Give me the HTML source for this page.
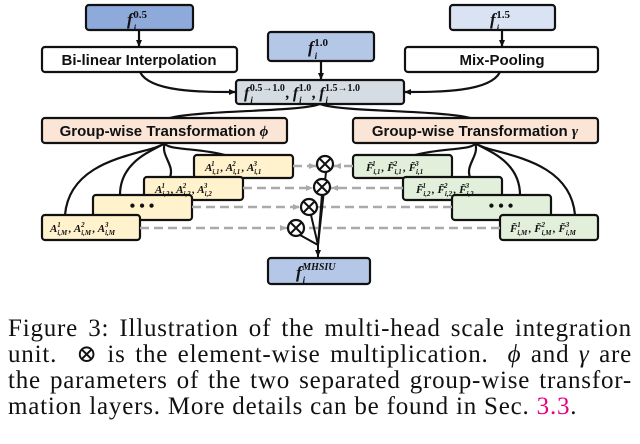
<!DOCTYPE html>
<html><head><meta charset="utf-8"><style>
body{margin:0;background:#fff;width:640px;height:444px;overflow:hidden;position:relative}
svg{position:absolute;left:0;top:0}
.cap{position:absolute;left:8px;width:624px;font-family:"Liberation Serif","DejaVu Serif",serif;font-size:25px;letter-spacing:0.8px;line-height:26px;top:316px;color:#111}
.cap div{text-align:justify;text-align-last:justify;white-space:nowrap}
.cap div.l{text-align-last:left}
</style></head><body>
<svg width="640" height="300" viewBox="0 0 640 300" font-family="Liberation Sans, DejaVu Sans, sans-serif">
<defs>
<marker id="a" markerWidth="8" markerHeight="8" refX="7" refY="4" orient="auto" markerUnits="userSpaceOnUse"><path d="M0,1 L7,4 L0,7z" fill="#111"/></marker>
<marker id="g" markerWidth="8" markerHeight="8" refX="7" refY="4" orient="auto" markerUnits="userSpaceOnUse"><path d="M0,1 L7,4 L0,7z" fill="#aaa"/></marker>
</defs>
<g stroke="#111" stroke-width="2.2" fill="none">
<line x1="139" y1="30" x2="139" y2="47" marker-end="url(#a)"/>
<line x1="502" y1="30" x2="502" y2="47" marker-end="url(#a)"/>
<line x1="321" y1="61" x2="321" y2="80" marker-end="url(#a)"/>
<path d="M140,72 C150,92 200,92 236,92" marker-end="url(#a)"/>
<path d="M500,72 C490,92 440,92 404,92" marker-end="url(#a)"/>
<path d="M320,104 C300,112 200,110 170,118"/>
<path d="M320,104 C340,112 440,110 470,118"/>
<path d="M165,143 C165,150 200,148 225,155"/>
<path d="M165,143 C160,155 175,165 170,177"/>
<path d="M165,143 C155,150 120,160 120,195"/>
<path d="M165,143 C150,155 70,155 65,215"/>
<path d="M475,143 C475,150 440,148 415,155"/>
<path d="M475,143 C480,155 465,165 470,177"/>
<path d="M475,143 C485,150 520,160 520,195"/>
<path d="M475,143 C490,155 570,155 575,215"/>
</g>
<g stroke="#111" stroke-width="2.2">
<rect x="86" y="5" width="107" height="25" rx="3" fill="#8eaadb"/>
<rect x="450" y="5" width="105" height="25" rx="3" fill="#dae3f3"/>
<rect x="268" y="32" width="106" height="29" rx="3" fill="#b4c7e7"/>
<rect x="42" y="47" width="195" height="25" rx="3" fill="#fff"/>
<rect x="405" y="47" width="193" height="25" rx="3" fill="#fff"/>
<rect x="236" y="80" width="168" height="24" rx="3" fill="#d6dce4"/>
<rect x="42" y="118" width="245" height="25" rx="3" fill="#fbe5d6"/>
<rect x="353" y="118" width="245" height="25" rx="3" fill="#fbe5d6"/>
<rect x="194" y="155" width="99" height="23" rx="3" fill="#fff2cc"/>
<rect x="144" y="177" width="99" height="23" rx="3" fill="#fff2cc"/>
<rect x="93" y="195" width="99" height="25" rx="3" fill="#fff2cc"/>
<rect x="42" y="215" width="98" height="25" rx="3" fill="#fff2cc"/>
<rect x="353" y="155" width="99" height="23" rx="3" fill="#e2efda"/>
<rect x="403" y="177" width="99" height="23" rx="3" fill="#e2efda"/>
<rect x="452" y="195" width="99" height="25" rx="3" fill="#e2efda"/>
<rect x="500" y="215" width="98" height="25" rx="3" fill="#e2efda"/>
<rect x="268" y="258" width="102" height="26" rx="3" fill="#b4c7e7"/>
</g>
<g stroke="#aaa" stroke-width="2.5" stroke-dasharray="9,5" fill="none">
<line x1="293" y1="166" x2="316" y2="166" marker-end="url(#g)"/>
<line x1="353" y1="166" x2="334" y2="166" marker-end="url(#g)"/>
<line x1="243" y1="188" x2="313" y2="188" marker-end="url(#g)"/>
<line x1="403" y1="188" x2="331" y2="188" marker-end="url(#g)"/>
<line x1="192" y1="207" x2="300" y2="207" marker-end="url(#g)"/>
<line x1="452" y1="207" x2="318" y2="207"/>
<line x1="140" y1="228" x2="287" y2="228" marker-end="url(#g)"/>
<line x1="500" y1="228" x2="305" y2="228"/>
</g>
<g stroke="#111" stroke-width="2" fill="none">
<line x1="326" y1="172" x2="318" y2="245"/>
<line x1="322" y1="194" x2="318" y2="245"/>
<line x1="311" y1="215" x2="318" y2="245"/>
<line x1="300" y1="235" x2="318" y2="245"/>
<line x1="318" y1="245" x2="318" y2="257" marker-end="url(#a)"/>
</g>
<g stroke="#111" stroke-width="2.2" fill="#fff">
<circle cx="325" cy="164" r="8"/><circle cx="322" cy="187" r="8"/><circle cx="309" cy="207" r="8"/><circle cx="296" cy="228" r="8"/>
</g>
<g stroke="#111" stroke-width="2">
<path d="M319.5,158.5l11,11M330.5,158.5l-11,11"/>
<path d="M316.5,181.5l11,11M327.5,181.5l-11,11"/>
<path d="M303.5,201.5l11,11M314.5,201.5l-11,11"/>
<path d="M290.5,222.5l11,11M301.5,222.5l-11,11"/>
</g>
<g font-weight="bold" font-size="15" fill="#111" text-anchor="middle">
<text x="139" y="65">Bi-linear Interpolation</text>
<text x="502" y="65">Mix-Pooling</text>
<text x="164" y="136">Group-wise Transformation <tspan font-family="Liberation Serif" font-style="italic">ϕ</tspan></text>
<text x="475" y="136">Group-wise Transformation <tspan font-family="Liberation Serif" font-style="italic">γ</tspan></text>
</g>
<g font-family="Liberation Serif, serif" font-weight="bold" fill="#111">
<text x="127" y="25" font-size="17" font-style="italic">f<tspan font-size="9" dx="1" dy="6">i</tspan><tspan font-size="11" font-style="normal" dx="-3" dy="-13">0.5</tspan></text>
<text x="490" y="25" font-size="17" font-style="italic">f<tspan font-size="9" dx="1" dy="6">i</tspan><tspan font-size="11" font-style="normal" dx="-3" dy="-13">1.5</tspan></text>
<text x="308" y="53" font-size="17" font-style="italic">f<tspan font-size="9" dx="1" dy="6">i</tspan><tspan font-size="11" font-style="normal" dx="-3" dy="-13">1.0</tspan></text>
<text x="244" y="98" font-size="16" font-style="italic">f<tspan font-size="9" dx="1" dy="5">i</tspan><tspan font-size="10" font-style="normal" dx="-3" dy="-12">0.5→1.0</tspan><tspan dx="1" dy="7">,</tspan><tspan dx="3">f</tspan><tspan font-size="9" dx="1" dy="5">i</tspan><tspan font-size="10" font-style="normal" dx="-3" dy="-12">1.0</tspan><tspan dx="1" dy="7">,</tspan><tspan dx="3">f</tspan><tspan font-size="9" dx="1" dy="5">i</tspan><tspan font-size="10" font-style="normal" dx="-3" dy="-12">1.5→1.0</tspan></text>
<text x="296" y="278" font-size="17" font-style="italic">f<tspan font-size="9" dx="1" dy="5">i</tspan><tspan font-size="10" dx="-3" dy="-13">MHSIU</tspan></text>
<g font-size="11" font-style="italic">
<text x="205" y="171">A<tspan font-size="7" dy="3">i,1</tspan><tspan font-size="7" dx="-8" dy="-8">1</tspan><tspan dx="6" dy="5">, A</tspan><tspan font-size="7" dy="3">i,1</tspan><tspan font-size="7" dx="-8" dy="-8">2</tspan><tspan dx="6" dy="5">, A</tspan><tspan font-size="7" dy="3">i,1</tspan><tspan font-size="7" dx="-8" dy="-8">3</tspan></text>
<text x="155" y="193">A<tspan font-size="7" dy="3">i,2</tspan><tspan font-size="7" dx="-8" dy="-8">1</tspan><tspan dx="6" dy="5">, A</tspan><tspan font-size="7" dy="3">i,2</tspan><tspan font-size="7" dx="-8" dy="-8">2</tspan><tspan dx="6" dy="5">, A</tspan><tspan font-size="7" dy="3">i,2</tspan><tspan font-size="7" dx="-8" dy="-8">3</tspan></text>
<text x="50" y="232">A<tspan font-size="7" dy="3">i,M</tspan><tspan font-size="7" dx="-10" dy="-8">1</tspan><tspan dx="8" dy="5">, A</tspan><tspan font-size="7" dy="3">i,M</tspan><tspan font-size="7" dx="-10" dy="-8">2</tspan><tspan dx="8" dy="5">, A</tspan><tspan font-size="7" dy="3">i,M</tspan><tspan font-size="7" dx="-10" dy="-8">3</tspan></text>
<text x="366" y="171">F̃<tspan font-size="7" dy="3">i,1</tspan><tspan font-size="7" dx="-8" dy="-8">1</tspan><tspan dx="6" dy="5">, F̃</tspan><tspan font-size="7" dy="3">i,1</tspan><tspan font-size="7" dx="-8" dy="-8">2</tspan><tspan dx="6" dy="5">, F̃</tspan><tspan font-size="7" dy="3">i,1</tspan><tspan font-size="7" dx="-8" dy="-8">3</tspan></text>
<text x="416" y="193">F̃<tspan font-size="7" dy="3">i,2</tspan><tspan font-size="7" dx="-8" dy="-8">1</tspan><tspan dx="6" dy="5">, F̃</tspan><tspan font-size="7" dy="3">i,2</tspan><tspan font-size="7" dx="-8" dy="-8">2</tspan><tspan dx="6" dy="5">, F̃</tspan><tspan font-size="7" dy="3">i,2</tspan><tspan font-size="7" dx="-8" dy="-8">3</tspan></text>
<text x="510" y="232">F̃<tspan font-size="7" dy="3">i,M</tspan><tspan font-size="7" dx="-10" dy="-8">1</tspan><tspan dx="8" dy="5">, F̃</tspan><tspan font-size="7" dy="3">i,M</tspan><tspan font-size="7" dx="-10" dy="-8">2</tspan><tspan dx="8" dy="5">, F̃</tspan><tspan font-size="7" dy="3">i,M</tspan><tspan font-size="7" dx="-10" dy="-8">3</tspan></text>
</g>
<text x="142" y="211" font-size="16" text-anchor="middle">• • •</text>
<text x="501" y="211" font-size="16" text-anchor="middle">• • •</text>
</g>
</svg>
<div class="cap">
<div>Figure 3: Illustration of the multi-head scale integration</div>
<div>unit. &nbsp;⊗ is the element-wise multiplication. &nbsp;<i>ϕ</i> and <i>γ</i> are</div>
<div>the parameters of the two separated group-wise transfor-</div>
<div class="l">mation layers. More details can be found in Sec. <span style="color:#e6007e">3.3</span>.</div>
</div>
</body></html>
